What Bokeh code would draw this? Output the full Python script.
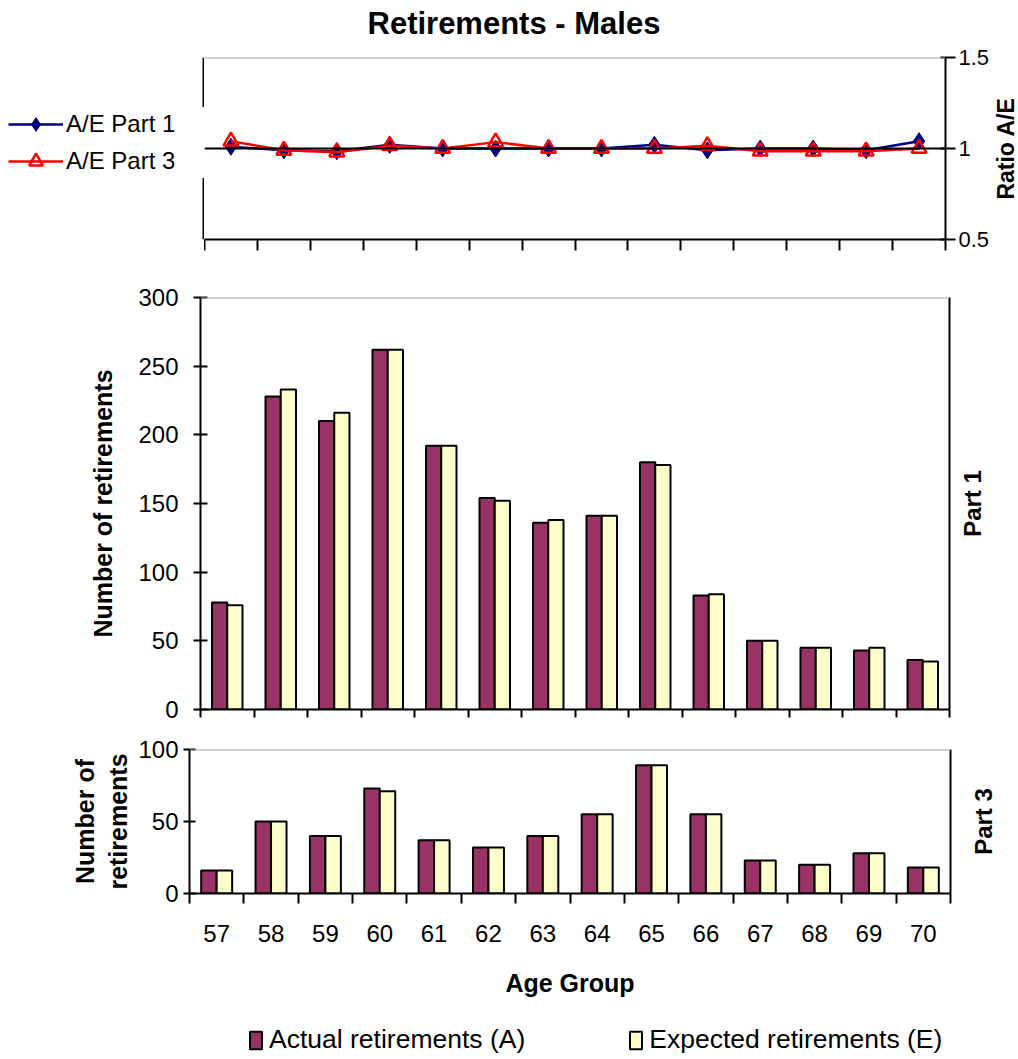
import numpy as np
from bokeh.plotting import figure
from bokeh.models import (LinearAxis, FixedTicker, Span, Legend, LegendItem,
                          Range1d, Title)
from bokeh.layouts import column, row
from bokeh.embed import file_html
from bokeh.resources import INLINE

# ---------------- data ----------------
ages = ["57", "58", "59", "60", "61", "62", "63", "64", "65", "66", "67", "68", "69", "70"]

ae_part1 = [1.01, 0.99, 0.985, 1.02, 1.0, 1.0, 1.0, 1.0, 1.02, 0.99, 1.0, 1.0, 0.99, 1.04]
ae_part3 = [1.04, 0.99, 0.98, 1.015, 1.0, 1.035, 1.0, 1.0, 1.0, 1.015, 0.985, 0.985, 0.985, 1.0]

actual_p1 = [78, 228, 210, 262, 192, 154, 136, 141, 180, 83, 50, 45, 43, 36]
expected_p1 = [76, 233, 216, 262, 192, 152, 138, 141, 178, 84, 50, 45, 45, 35]

actual_p3 = [16, 50, 40, 73, 37, 32, 40, 55, 89, 55, 23, 20, 28, 18]
expected_p3 = [16, 50, 40, 71, 37, 32, 40, 55, 89, 55, 23, 20, 28, 18]

ratio_ticks = [0.5, 1, 1.5]
ratio_tick_labels = ["0.5", "1", "1.5"]
p1_ticks = [0, 50, 100, 150, 200, 250, 300]
p3_ticks = [0, 50, 100]

FONT = "Liberation Sans"
PURPLE = "#993366"
YELLOW = "#FFFFCC"
NAVY = "#000080"
RED = "#FF0000"
GREY = "#A0A0A0"

n = len(ages)
xc = np.arange(n) + 0.5
bounds = list(range(n + 1))
bw = 0.285


def bare_fig(width, height, left, right, top, bottom, xr=(0, 1), yr=(0, 1)):
    p = figure(width=width, height=height, x_range=Range1d(*xr), y_range=Range1d(*yr),
               x_axis_location=None, y_axis_location=None,
               min_border_left=left, min_border_right=right, min_border_top=top,
               min_border_bottom=bottom, output_backend="svg", toolbar_location=None)
    p.outline_line_color = None
    p.xgrid.visible = False
    p.ygrid.visible = False
    return p


def side_label(width, height, top, bottom, text, standoff, size):
    """Narrow companion figure whose left-axis title reads bottom-to-top."""
    q = bare_fig(width, height, width - 1, 0, top, bottom)
    ax = LinearAxis(ticker=FixedTicker(ticks=[]), axis_label=text)
    ax.axis_line_color = None
    ax.major_tick_out = 0
    ax.major_tick_in = 0
    ax.major_label_standoff = 0
    ax.axis_label_standoff = standoff
    ax.axis_label_text_font = FONT
    ax.axis_label_text_font_style = "bold"
    ax.axis_label_text_font_size = size
    ax.axis_label_text_color = "black"
    q.add_layout(ax, "left")
    return q


def style_axis(ax, size="24px"):
    ax.axis_line_color = "black"
    ax.axis_line_width = 2
    ax.major_tick_line_color = "black"
    ax.major_tick_line_width = 2
    ax.minor_tick_line_color = "black"
    ax.minor_tick_line_width = 2
    ax.major_label_text_font = FONT
    ax.major_label_text_font_size = size
    ax.major_label_text_color = "black"
    ax.axis_label_text_font = FONT
    ax.axis_label_text_font_style = "bold"
    ax.axis_label_text_color = "black"


def line_axis(p, side, tick_out=0):
    ax = LinearAxis(ticker=FixedTicker(ticks=[], minor_ticks=bounds if tick_out else []))
    style_axis(ax)
    ax.major_tick_out = 0
    ax.major_tick_in = 0
    ax.minor_tick_in = 0
    ax.minor_tick_out = tick_out
    ax.major_label_standoff = 0
    p.add_layout(ax, side)
    return ax


# ---------------- title strip ----------------
TH = 46
tfig = bare_fig(1018, TH, 0, 0, 0, 0)
tfig.title = Title(text="Retirements - Males", align="left", offset=367, standoff=8,
                   vertical_align="middle", text_font=FONT, text_font_size="31px",
                   text_font_style="bold", text_color="black")

# ---------------- top: ratio A/E ----------------
H1 = 265 - TH
TOP1 = 57 - TH
LW = 204
p1 = bare_fig(992 - LW, H1, 0, 44, TOP1, 26, xr=(0, n), yr=(0.5, 1.5))

p1.add_layout(Span(location=1.5, dimension="width", line_color=GREY, line_width=2))
p1.add_layout(Span(location=1.0, dimension="width", line_color="black", line_width=2))

line_style1 = dict(line_color=NAVY, line_width=2.5)
mark_style1 = dict(marker="diamond", size=17, fill_color=NAVY, line_color=NAVY)
line_style3 = dict(line_color=RED, line_width=2.5)
mark_style3 = dict(marker="triangle", size=15, fill_color=None, line_color=RED, line_width=2.5)

p1.line(xc, ae_part1, **line_style1)
p1.scatter(xc, ae_part1, **mark_style1)
p1.line(xc, ae_part3, **line_style3)
p1.scatter(xc, ae_part3, **mark_style3)

ax = LinearAxis(ticker=FixedTicker(ticks=ratio_ticks),
                major_label_overrides=dict(zip(ratio_ticks, ratio_tick_labels)))
style_axis(ax, "22px")
ax.major_tick_in = 5
ax.major_tick_out = 10
ax.major_label_standoff = 3
p1.add_layout(ax, "right")

line_axis(p1, "below", tick_out=11)

# legend panel left of the ratio chart; it also carries the chart's left border line,
# which the legend box interrupts as in the original
lg1 = bare_fig(LW, H1, 0, 0, TOP1, 26)
lg1.add_layout(Span(location=1, dimension="height", line_color="black", line_width=4))
k1 = [lg1.line(xc, ae_part1, visible=False, **line_style1),
      lg1.scatter(xc, ae_part1, visible=False, **mark_style1)]
k3 = [lg1.line(xc, ae_part3, visible=False, **line_style3),
      lg1.scatter(xc, ae_part3, visible=False, **mark_style3)]
leg1 = Legend(items=[LegendItem(label="A/E Part 1", renderers=k1),
                     LegendItem(label="A/E Part 3", renderers=k3)],
              location=(8, 61), glyph_width=55, glyph_height=34, label_standoff=3,
              spacing=3, padding=2, margin=0, label_width=140,
              border_line_color=None, background_fill_color="white",
              background_fill_alpha=1.0, inactive_fill_alpha=0.0,
              label_text_font=FONT, label_text_font_size="24px",
              label_text_color="black")
lg1.add_layout(leg1, "center")

q1 = side_label(26, H1, TOP1, 26, "Ratio A/E", 0, "23px")

# ---------------- middle: Part 1 ----------------
H2 = 465
p2 = bare_fig(957, H2, 200, 8, 32, 21, xr=(0, n), yr=(0, 300))
p2.add_layout(Span(location=300, dimension="width", line_color=GREY, line_width=2))
bar_a = dict(fill_color=PURPLE, line_color="black", line_width=2)
bar_e = dict(fill_color=YELLOW, line_color="black", line_width=2)
p2.vbar(x=xc - bw / 2, width=bw, top=actual_p1, **bar_a)
p2.vbar(x=xc + bw / 2, width=bw, top=expected_p1, **bar_e)

ax = LinearAxis(ticker=FixedTicker(ticks=p1_ticks), axis_label="Number of retirements")
style_axis(ax)
ax.major_tick_in = 7
ax.major_tick_out = 7
ax.major_label_standoff = 15
ax.axis_label_standoff = 18
ax.axis_label_text_font_size = "25px"
p2.add_layout(ax, "left")

line_axis(p2, "below", tick_out=8)
line_axis(p2, "right")

q2 = side_label(61, H2, 32, 21, "Part 1", 33, "24px")

# ---------------- bottom: Part 3 ----------------
H3 = 289
p3 = bare_fig(958, H3, 189, 8, 19, 126, xr=(0, n), yr=(0, 100))
p3.add_layout(Span(location=100, dimension="width", line_color=GREY, line_width=2))
p3.vbar(x=xc - bw / 2, width=bw, top=actual_p3, **bar_a)
p3.vbar(x=xc + bw / 2, width=bw, top=expected_p3, **bar_e)

ax = LinearAxis(ticker=FixedTicker(ticks=p3_ticks), axis_label="Number of\nretirements")
style_axis(ax)
ax.major_tick_in = 6
ax.major_tick_out = 6
ax.major_label_standoff = 5
ax.axis_label_standoff = 3
ax.axis_label_text_font_size = "25px"
p3.add_layout(ax, "left")

ax = LinearAxis(ticker=FixedTicker(ticks=list(xc), minor_ticks=bounds),
                major_label_overrides=dict(zip([float(v) for v in xc], ages)),
                axis_label="Age Group")
style_axis(ax)
ax.major_tick_in = 0
ax.major_tick_out = 0
ax.minor_tick_in = 0
ax.minor_tick_out = 10
ax.major_label_standoff = 21
ax.axis_label_standoff = 24
ax.axis_label_text_font_size = "25px"
p3.add_layout(ax, "below")

line_axis(p3, "right")

q3 = side_label(60, H3, 19, 126, "Part 3", 21, "24px")

# legend strip below the charts (hidden copies of the bar series supply the swatches)
lg3 = bare_fig(1018, 40, 0, 0, 0, 0)
ka = lg3.vbar(x=xc, top=actual_p3, width=bw, visible=False, **bar_a)
ke = lg3.vbar(x=xc, top=expected_p3, width=bw, visible=False, **bar_e)
leg3 = Legend(items=[LegendItem(label="Actual retirements (A)", renderers=[ka]),
                     LegendItem(label="Expected retirements (E)", renderers=[ke])],
              location=(248, 4), orientation="horizontal", glyph_width=15,
              glyph_height=22, label_standoff=6, spacing=103, padding=0, margin=0,
              border_line_color=None, background_fill_alpha=0.0,
              inactive_fill_alpha=0.0,
              label_text_font=FONT, label_text_font_size="26.5px",
              label_text_color="black")
lg3.add_layout(leg3, "center")

layout = column(tfig, row(lg1, p1, q1), row(p2, q2), row(p3, q3), lg3)
open("out.html", "w").write(file_html(layout, INLINE))
